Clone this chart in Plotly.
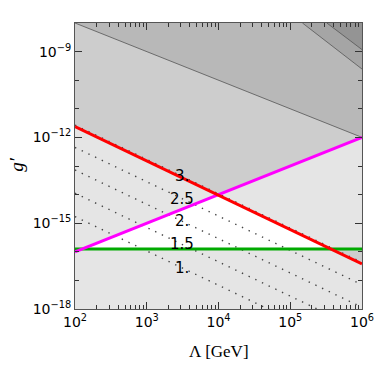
import math
import plotly.graph_objects as go

# ---- data (log-log straight lines, given by end points) ----
LAM_MIN, LAM_MAX = 1e2, 1e6
G_MIN, G_MAX = 1e-18, 1e-8

# coloured bounds: g' at Lambda = 1e2 and 1e6 GeV
red_g = [10**-11.62, 10**-16.42]
magenta_g = [10**-16.0, 10**-12.0]
green_g = [10**-15.9, 10**-15.9]

# thin grey bounds (excluded above them): (Lambda, g') end points
thin_lam = [1e2, 1e6]
thin_g = [1e-8, 1e-12]
boundA_lam = [10**5.17, 1e6]
boundA_g = [1e-8, 10**-9.61]
boundB_lam = [10**5.51, 1e6]
boundB_g = [1e-8, 10**-8.93]

# dotted contours: labels and g' at Lambda = 1e2 and 1e6 GeV
contour_labels = ["3.", "2.5", "2.", "1.5", "1."]
contour_g_lo = [10**-11.57, 10**-12.35, 10**-13.14, 10**-13.95, 10**-14.77]
contour_g_hi = [10**-16.37, 10**-17.15, 10**-17.94, 10**-18.75, 10**-19.57]
contour_label_lam = 10**3.49

x_tick_vals = [1e2, 1e3, 1e4, 1e5, 1e6]
x_tick_text = ["10<sup>2</sup>", "10<sup>3</sup>", "10<sup>4</sup>", "10<sup>5</sup>", "10<sup>6</sup>"]
y_tick_vals = [1e-18, 1e-15, 1e-12, 1e-9]
y_tick_text = ["10<sup>\u221218</sup>", "10<sup>\u221215</sup>", "10<sup>\u221212</sup>", "10<sup>\u22129</sup>"]

x_minor = [m * 10**e for e in range(2, 6) for m in range(2, 10)]
y_minor = [10**e for e in range(-17, -8) if e not in (-15, -12, -9)]

SHADE = "rgba(0,0,0,0.1)"
fig = go.Figure()

def region(xs, ys):
    fig.add_trace(go.Scatter(x=xs, y=ys, fill="toself", fillcolor=SHADE,
                             mode="lines", line=dict(width=0), hoverinfo="skip"))

# excluded regions (overlapping translucent layers)
region([LAM_MIN, LAM_MAX, LAM_MAX, LAM_MIN], [G_MIN, G_MIN, green_g[1], green_g[0]])
region([LAM_MIN, LAM_MAX, LAM_MAX, LAM_MIN], [red_g[0], red_g[1], G_MAX, G_MAX])
region([LAM_MIN, LAM_MAX, LAM_MAX, LAM_MIN], [magenta_g[0], magenta_g[1], G_MAX, G_MAX])
region(thin_lam + [LAM_MAX], thin_g + [G_MAX])
region(boundA_lam + [LAM_MAX], boundA_g + [G_MAX])
region(boundB_lam + [LAM_MAX], boundB_g + [G_MAX])

# thin boundary lines
for xs, ys in [(thin_lam, thin_g), (boundA_lam, boundA_g), (boundB_lam, boundB_g)]:
    fig.add_trace(go.Scatter(x=xs, y=ys, mode="lines",
                             line=dict(color="#555555", width=0.8)))

# dotted contours
for lo, hi in zip(contour_g_lo, contour_g_hi):
    fig.add_trace(go.Scatter(x=[LAM_MIN, LAM_MAX], y=[lo, hi], mode="lines",
                             line=dict(color="#444444", width=1.4, dash="1.4px,6px")))

# coloured bounds
fig.add_trace(go.Scatter(x=[LAM_MIN, LAM_MAX], y=green_g, mode="lines",
                         line=dict(color="#00aa00", width=3)))
fig.add_trace(go.Scatter(x=[LAM_MIN, LAM_MAX], y=magenta_g, mode="lines",
                         line=dict(color="#ff00ff", width=3)))
fig.add_trace(go.Scatter(x=[LAM_MIN, LAM_MAX], y=red_g, mode="lines",
                         line=dict(color="#ff0000", width=3)))

# contour labels (placed on their lines)
frac = (math.log10(contour_label_lam) - 2) / 4
for lab, lo, hi in zip(contour_labels, contour_g_lo, contour_g_hi):
    ly = 10 ** (math.log10(lo) + frac * (math.log10(hi) - math.log10(lo)))
    fig.add_annotation(x=math.log10(contour_label_lam), y=math.log10(ly), text=lab,
                       showarrow=False, font=dict(family="DejaVu Sans", size=15, color="black"),
                       xanchor="center", yanchor="middle")

fig.add_annotation(xref="paper", yref="paper", x=0.5, y=-0.15, text="\u039b [GeV]",
                   showarrow=False, font=dict(family="Liberation Serif", size=17, color="black"),
                   xanchor="center", yanchor="middle")
fig.add_annotation(xref="paper", yref="paper", x=-0.205, y=0.505, text="<i>g\u2032</i>",
                   showarrow=False, textangle=-90,
                   font=dict(family="Liberation Serif", size=19, color="black"),
                   xanchor="center", yanchor="middle")

axis_common = dict(type="log", showgrid=False, zeroline=False, showline=True,
                   linecolor="#555555", linewidth=1, mirror="allticks",
                   ticks="inside", ticklen=7, tickcolor="#333333", tickwidth=1,
                   tickfont=dict(family="DejaVu Sans", size=14, color="black"),
                   tickmode="array", automargin=False, ticklabeloverflow="allow")
fig.update_xaxes(range=[2, 6], tickvals=x_tick_vals, ticktext=x_tick_text,
                 minor=dict(tickvals=x_minor, ticks="inside", ticklen=4, tickcolor="#333333"),
                 **axis_common)
fig.update_yaxes(range=[-18, -8], tickvals=y_tick_vals, ticktext=y_tick_text,
                 minor=dict(tickvals=y_minor, ticks="inside", ticklen=4, tickcolor="#333333"),
                 **axis_common)

fig.update_layout(width=374, height=368, margin=dict(l=75, r=12, t=23, b=59),
                  plot_bgcolor="white", paper_bgcolor="white", showlegend=False)
fig.write_html("out.html", config={"displayModeBar": False},
               post_script="document.body.style.margin='0';document.body.style.padding='0';")
